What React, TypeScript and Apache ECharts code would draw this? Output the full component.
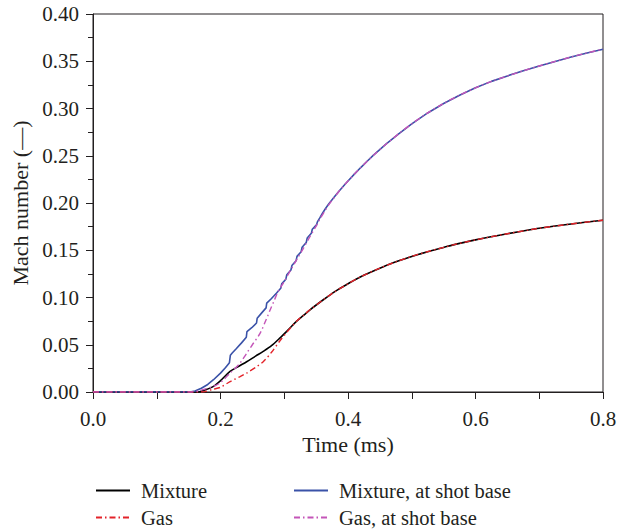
import React, { useEffect, useRef } from "react";
import * as echarts from "echarts";

// Time (ms), Mach number pairs
const mixture: [number, number][] = [
  [0, 0], [0.165, 0], [0.175, 0.002], [0.189, 0.006], [0.2, 0.012], [0.215, 0.0218],
  [0.228, 0.027], [0.241, 0.032], [0.255, 0.038], [0.267, 0.043], [0.28, 0.049],
  [0.293, 0.057], [0.305, 0.065], [0.3195, 0.075], [0.33, 0.081], [0.3404, 0.087],
  [0.3613, 0.0976], [0.38, 0.1065], [0.40, 0.1145], [0.42, 0.122], [0.45, 0.131],
  [0.475, 0.1377], [0.50, 0.1435], [0.525, 0.1485], [0.55, 0.153], [0.565, 0.1557],
  [0.60, 0.161], [0.65, 0.1675], [0.69, 0.1722], [0.70, 0.1733], [0.75, 0.1778], [0.80, 0.1818],
];

const gas: [number, number][] = [
  [0, 0], [0.17, 0], [0.189, 0.003], [0.2, 0.005], [0.215, 0.011], [0.23, 0.016],
  [0.241, 0.02], [0.255, 0.026], [0.267, 0.032], [0.28, 0.042], [0.293, 0.054],
  [0.305, 0.064], [0.3195, 0.075], [0.33, 0.081], [0.3404, 0.087],
  [0.3613, 0.0976], [0.38, 0.1065], [0.40, 0.1145], [0.42, 0.122], [0.45, 0.131],
  [0.475, 0.1377], [0.50, 0.1435], [0.525, 0.1485], [0.55, 0.153], [0.565, 0.1557],
  [0.60, 0.161], [0.65, 0.1675], [0.69, 0.1722], [0.70, 0.1733], [0.75, 0.1778], [0.80, 0.1818],
];

const mixtureShotBase: [number, number][] = [
  [0, 0], [0.152, 0], [0.16, 0.001], [0.17, 0.004], [0.18, 0.008], [0.189, 0.013],
  [0.2, 0.02], [0.208, 0.026], [0.214, 0.031], [0.2155, 0.039], [0.218, 0.041],
  [0.225, 0.046], [0.233, 0.052], [0.2405, 0.058], [0.2415, 0.064], [0.249, 0.068],
  [0.2565, 0.073], [0.2575, 0.078], [0.265, 0.084], [0.2715, 0.089], [0.2725, 0.094],
  [0.28, 0.099], [0.288, 0.1047], [0.2945, 0.1097], [0.296, 0.1144], [0.3025, 0.1194],
  [0.304, 0.1241], [0.3105, 0.1291], [0.312, 0.1338], [0.3185, 0.1388], [0.32, 0.1435],
  [0.3265, 0.1485], [0.328, 0.1532], [0.3345, 0.1582], [0.336, 0.1629], [0.3425, 0.1679],
  [0.344, 0.1722], [0.3505, 0.1768], [0.352, 0.1800], [0.356, 0.1845], [0.36, 0.1892],
  [0.365, 0.1945], [0.37, 0.1992], [0.375, 0.2035], [0.38, 0.2077], [0.3875, 0.2138],
  [0.395, 0.2196], [0.40, 0.2233], [0.41, 0.2306], [0.42, 0.2375], [0.43, 0.2442],
  [0.44, 0.2506], [0.46, 0.2625], [0.48, 0.2735], [0.50, 0.2838], [0.525, 0.2953],
  [0.55, 0.3053], [0.575, 0.3141], [0.60, 0.3219], [0.625, 0.3287], [0.65, 0.3345],
  [0.675, 0.3399], [0.70, 0.345], [0.725, 0.3498], [0.75, 0.3545], [0.775, 0.3588], [0.80, 0.3628],
];

const gasShotBase: [number, number][] = [
  [0, 0], [0.155, 0], [0.17, 0.002], [0.189, 0.006], [0.2, 0.01], [0.215, 0.02],
  [0.23, 0.03], [0.241, 0.041], [0.25, 0.05], [0.262, 0.062], [0.27, 0.074],
  [0.278, 0.087], [0.285, 0.098], [0.29, 0.106], [0.30, 0.117], [0.31, 0.129],
  [0.32, 0.1405], [0.33, 0.152], [0.34, 0.164], [0.35, 0.1755], [0.356, 0.1832],
  [0.36, 0.1875], [0.365, 0.193], [0.37, 0.1983], [0.375, 0.2028], [0.38, 0.2072],
  [0.3875, 0.2138], [0.395, 0.2196], [0.40, 0.2233], [0.41, 0.2306], [0.42, 0.2375],
  [0.43, 0.2442], [0.44, 0.2506], [0.46, 0.2625], [0.48, 0.2735], [0.50, 0.2838],
  [0.525, 0.2953], [0.55, 0.3053], [0.575, 0.3141], [0.60, 0.3219], [0.625, 0.3287],
  [0.65, 0.3345], [0.675, 0.3399], [0.70, 0.345], [0.725, 0.3498], [0.75, 0.3545],
  [0.775, 0.3588], [0.80, 0.3628],
];

const seriesNames = ["Mixture", "Mixture, at shot base", "Gas", "Gas, at shot base"];

const FONT = "Liberation Serif";
const TXT = "#231f20";

export default function App() {
  const ref = useRef<HTMLDivElement>(null);
  useEffect(() => {
    if (!ref.current) return;
    const chart = echarts.init(ref.current, undefined, { renderer: "svg" });
    const dashDot = [6, 3, 1.5, 3];
    const legendBase = (name: string, left: number, top: number) => ({
      data: [name],
      left,
      top,
      orient: "horizontal",
      padding: 0,
      itemWidth: 34,
      itemHeight: 16,
      selectedMode: false,
      textStyle: { fontFamily: FONT, fontSize: 20.5, color: TXT, padding: [0, 0, 0, 6] },
      lineStyle: { width: 2 },
      itemStyle: {
        color: "rgba(0,0,0,0)",
        borderColor: "rgba(0,0,0,0)",
        borderWidth: 0,
        opacity: 0,
      },
    });
    chart.setOption({
      animation: false,
      textStyle: { fontFamily: FONT },
      grid: {
        left: 93,
        right: 23,
        top: 14,
        bottom: 137,
        show: true,
        borderColor: TXT,
        borderWidth: 1,
        containLabel: false,
      },
      legend: [
        legendBase(seriesNames[0], 95, 480),
        legendBase(seriesNames[1], 293, 480),
        legendBase(seriesNames[2], 95, 507),
        legendBase(seriesNames[3], 293, 507),
      ],
      xAxis: {
        type: "value",
        min: 0,
        max: 0.8,
        interval: 0.2,
        name: "Time (ms)",
        nameLocation: "middle",
        nameGap: 36,
        nameTextStyle: { fontFamily: FONT, fontSize: 22, color: TXT },
        axisLine: { lineStyle: { color: TXT, width: 1 } },
        axisTick: { show: true, inside: false, length: 7, lineStyle: { color: TXT } },
        minorTick: { show: true, splitNumber: 2, length: 7, lineStyle: { color: TXT } },
        splitLine: { show: false },
        axisLabel: {
          fontFamily: FONT,
          fontSize: 21,
          color: TXT,
          margin: 16,
          formatter: (v: number) => v.toFixed(1),
        },
      },
      yAxis: {
        type: "value",
        min: 0,
        max: 0.4,
        interval: 0.05,
        name: "Mach number (\u2014)",
        nameLocation: "middle",
        nameGap: 58,
        nameTextStyle: { fontFamily: FONT, fontSize: 22, color: TXT },
        axisLine: { show: true, lineStyle: { color: TXT, width: 1 } },
        axisTick: { show: true, inside: false, length: 7, lineStyle: { color: TXT } },
        minorTick: { show: true, splitNumber: 2, length: 5, lineStyle: { color: TXT } },
        splitLine: { show: false },
        axisLabel: {
          fontFamily: FONT,
          fontSize: 21,
          color: TXT,
          margin: 14,
          formatter: (v: number) => v.toFixed(2),
        },
      },
      series: [
        {
          name: seriesNames[0],
          type: "line",
          data: mixture,
          symbol: "none",
          smooth: 0.3,
          lineStyle: { color: "#000000", width: 1.6 },
          itemStyle: { color: "#000000" },
          z: 2,
        },
        {
          name: seriesNames[1],
          type: "line",
          data: mixtureShotBase,
          symbol: "none",
          lineStyle: { color: "#3a52a8", width: 1.6 },
          itemStyle: { color: "#3a52a8" },
          z: 2,
        },
        {
          name: seriesNames[2],
          type: "line",
          data: gas,
          symbol: "none",
          smooth: 0.3,
          lineStyle: { color: "#e3232a", width: 1.4, type: dashDot },
          itemStyle: { color: "#e3232a" },
          z: 3,
        },
        {
          name: seriesNames[3],
          type: "line",
          data: gasShotBase,
          symbol: "none",
          smooth: 0.3,
          lineStyle: { color: "#c455b8", width: 1.4, type: dashDot },
          itemStyle: { color: "#c455b8" },
          z: 3,
        },
      ],
    });
    return () => chart.dispose();
  }, []);
  return (
    <div
      ref={ref}
      style={{ position: "fixed", left: 0, top: 0, width: 626, height: 529, background: "#fff" }}
    />
  );
}
